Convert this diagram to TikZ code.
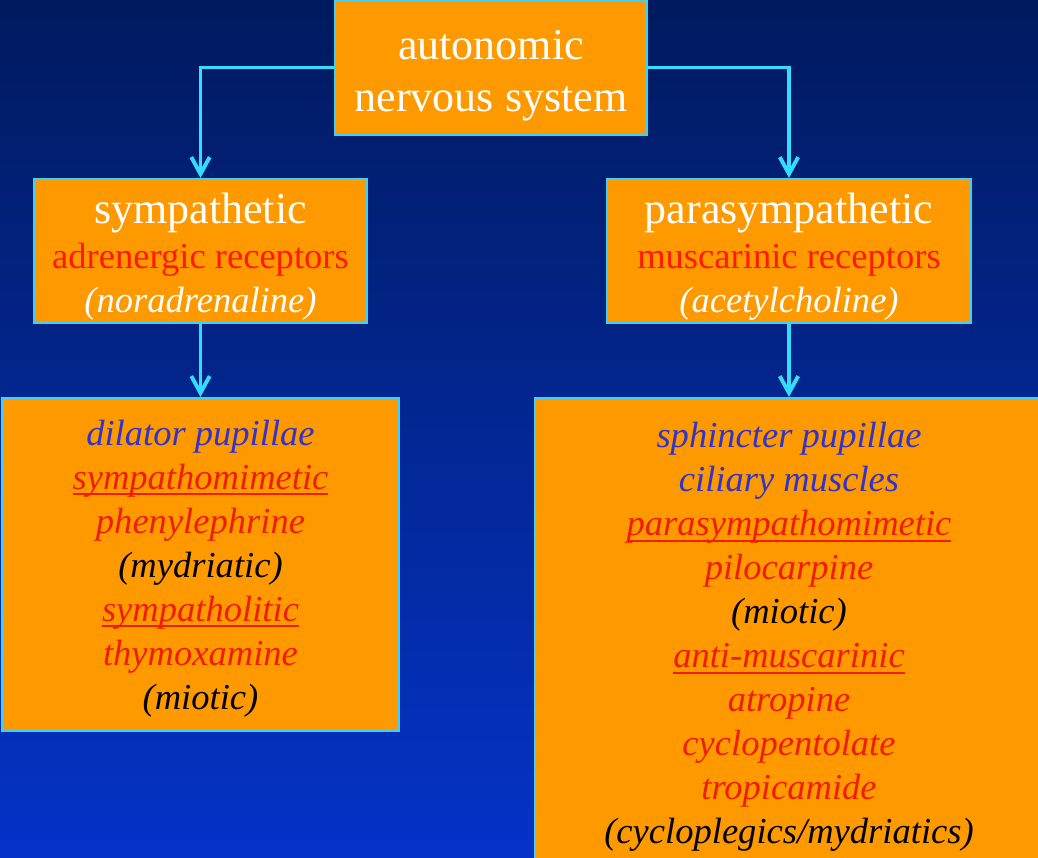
\documentclass[tikz,border=0pt]{standalone}
\usepackage{fontspec}
\setmainfont{Liberation Serif}
\usepackage{xcolor}
\usetikzlibrary{positioning,arrows.meta}

\definecolor{bgtop}{HTML}{001A5E}
\definecolor{bgbottom}{HTML}{0533C8}
\definecolor{boxorange}{HTML}{FF9900}
\definecolor{edgecyan}{HTML}{40D0F0}
\definecolor{linkcyan}{HTML}{33DDFF}
\definecolor{recred}{HTML}{FF1A00}
\definecolor{drugred}{HTML}{F01E00}
\definecolor{musclblue}{HTML}{3333C8}

% red underline, a bit heavier than \underline
\newcommand{\ulined}[1]{\setbox0\hbox{#1}\rlap{\rule[-4.5pt]{\wd0}{1.5pt}}\box0}

\begin{document}
\begin{tikzpicture}[
			node distance=1.825cm,
			box/.style={
				draw=edgecyan,
				line width=1.4pt,
				fill=boxorange,
				align=center,
				inner sep=0pt
			},
			headbox/.style={
				box,
				text=white,
				font=\fontsize{26}{31}\selectfont
			},
			listbox/.style={
				box,
				font=\fontsize{26}{31.3}\selectfont\itshape
			},
			arrow/.style={
				draw=linkcyan,
				line width=2.8pt,
				-{Straight Barb[length=4.2mm,width=4.6mm]}
			}
			]
			
			\useasboundingbox (0,0) rectangle (25.95,-21.45);
			\clip (0,0) rectangle (25.95,-21.45);
			\shade[top color=bgtop,bottom color=bgbottom] (0,0) rectangle (25.95,-21.45);
			
			\node[headbox,minimum width=7.8cm,minimum height=3.375cm,
				font=\fontsize{31.3}{37}\selectfont] (ans) at (12.275,-1.6875)
				{\rule{0pt}{32.8pt}autonomic\\nervous system};
			
			\node[headbox,minimum width=8.325cm,minimum height=3.6cm] (symp) at (5.0125,-6.275)
				{{\fontsize{31.3}{37}\selectfont\rule{0pt}{30pt}sympathetic}\\[1pt]
				\textcolor{recred}{adrenergic receptors}\\
				\textit{(noradrenaline)}};
			\node[headbox,minimum width=9.1cm,minimum height=3.6cm] (para) at (19.725,-6.275)
				{{\fontsize{31.3}{37}\selectfont\rule{0pt}{30pt}parasympathetic}\\[1pt]
				\textcolor{recred}{muscarinic receptors}\\
				\textit{(acetylcholine)}};
			
			\node[listbox,minimum width=9.925cm,minimum height=8.325cm,below=of symp] (sympeye)
				{\rule{0pt}{23.4pt}\textcolor{musclblue}{dilator pupillae}\\
				\textcolor{drugred}{\ulined{sympathomimetic}}\\
				\textcolor{drugred}{phenylephrine}\\
				(mydriatic)\\
				\textcolor{drugred}{\ulined{sympatholitic}}\\
				\textcolor{drugred}{thymoxamine}\\
				(miotic)};
			\node[listbox,minimum width=12.7cm,minimum height=11.8cm,below=of para] (paraeye)
				{\rule{0pt}{22pt}\textcolor{musclblue}{sphincter pupillae}\\
				\textcolor{musclblue}{ciliary muscles}\\
				\textcolor{drugred}{\ulined{parasympathomimetic}}\\
				\textcolor{drugred}{pilocarpine}\\
				(miotic)\\
				\textcolor{drugred}{\ulined{anti-muscarinic}}\\
				\textcolor{drugred}{atropine}\\
				\textcolor{drugred}{cyclopentolate}\\
				\textcolor{drugred}{tropicamide}\\
				(cycloplegics/mydriatics)};
			
			\draw[arrow] (ans.west) -| (symp.north);
			\draw[arrow] (ans.east) -| (para.north);
			\draw[arrow] (symp) -- (sympeye);
			\draw[arrow] (para) -- (paraeye);
			
		\end{tikzpicture}
\end{document}
